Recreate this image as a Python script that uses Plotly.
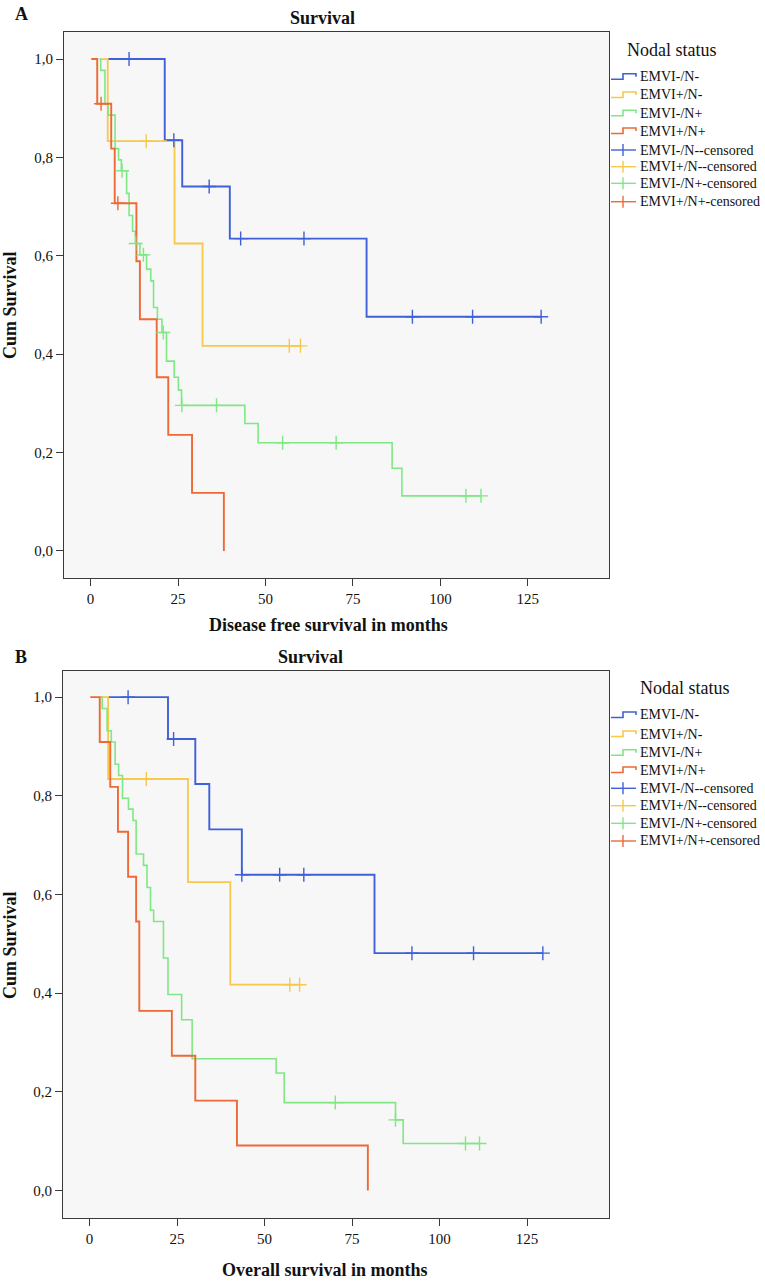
import plotly.graph_objects as go

W, H = 765, 1281

groups = ["EMVI-/N-", "EMVI+/N-", "EMVI-/N+", "EMVI+/N+"]
colors = ["#3f60d8", "#f8c84a", "#7fe884", "#ee6935"]
widths = [1.9, 1.8, 1.6, 1.9]

x_ticks = [0, 25, 50, 75, 100, 125]
y_ticks = [0.0, 0.2, 0.4, 0.6, 0.8, 1.0]
y_tick_text = ["0,0", "0,2", "0,4", "0,6", "0,8", "1,0"]

# Panel A - disease free survival (months)
dfs_start = [5.0, 3.0, 2.5, 0.2]
dfs_times = [
    [21.2, 26.2, 39.8, 78.9],
    [4.9, 24.0, 32.0],
    [2.9, 4.1, 5.0, 7.0, 8.0, 8.8, 10.3, 11.0, 12.0, 12.8, 14.1, 16.0, 17.2, 18.0,
     19.1, 20.4, 21.7, 23.9, 25.1, 26.0, 44.1, 47.9, 86.2, 89.0],
    [1.9, 5.9, 6.9, 13.1, 14.1, 18.9, 22.2, 29.0, 38.1],
]
dfs_surv = [
    [0.835, 0.741, 0.635, 0.476],
    [0.833, 0.625, 0.417],
    [0.977, 0.909, 0.886, 0.818, 0.795, 0.773, 0.727, 0.682, 0.650, 0.625, 0.602, 0.573,
     0.549, 0.495, 0.471, 0.444, 0.386, 0.353, 0.327, 0.296, 0.259, 0.220, 0.168, 0.112],
    [0.909, 0.818, 0.707, 0.589, 0.471, 0.353, 0.236, 0.118, 0.0],
]
dfs_censored = [
    [11.0, 23.8, 33.9, 42.9, 61.0, 92.0, 109.2, 128.8],
    [15.9, 56.8, 60.0],
    [9.0, 12.9, 15.1, 20.8, 26.1, 36.0, 54.9, 70.2, 107.3, 111.6],
    [3.0, 7.8],
]
dfs_end = [128.8, 60.0, 111.6, 38.1]

# Panel B - overall survival (months)
os_start = [5.4, 3.0, 3.2, 0.2]
os_times = [
    [22.4, 30.2, 34.2, 43.5, 81.4],
    [5.3, 28.1, 40.2],
    [3.6, 5.0, 6.2, 7.3, 8.3, 9.4, 11.1, 12.4, 13.3, 15.4, 16.4, 17.4, 18.3, 21.1,
     22.4, 26.3, 29.3, 53.3, 55.6, 87.4, 89.6],
    [2.9, 5.9, 8.1, 11.0, 13.3, 14.2, 23.5, 30.2, 42.1, 79.5],
]
os_surv = [
    [0.915, 0.824, 0.732, 0.640, 0.481],
    [0.834, 0.625, 0.417],
    [0.977, 0.932, 0.909, 0.864, 0.841, 0.795, 0.773, 0.750, 0.682, 0.659, 0.614, 0.568,
     0.545, 0.471, 0.397, 0.346, 0.267, 0.238, 0.178, 0.143, 0.095],
    [0.909, 0.818, 0.727, 0.636, 0.545, 0.364, 0.273, 0.182, 0.091, 0.0],
]
os_censored = [
    [11.0, 24.0, 43.5, 54.3, 61.2, 92.1, 109.7, 129.5],
    [16.2, 57.2, 60.0],
    [70.2, 87.4, 107.4, 111.4],
    [],
]
os_end = [129.5, 60.0, 111.4, 79.5]


def surv_at(t, times, surv):
    s = 1.0
    for ti, si in zip(times, surv):
        if ti <= t:
            s = si
    return s


def px(x):
    return x / W


def py(y):
    return 1 - y / H


fig = go.Figure()


def add_panel(xa, ya, start, times, surv, censored, end):
    for i in range(4):
        xs = [start[i]] + times[i] + [end[i]]
        ys = [1.0] + surv[i] + [surv[i][-1]]
        fig.add_trace(go.Scatter(x=xs, y=ys, mode="lines", line_shape="hv",
                                 line=dict(color=colors[i], width=widths[i]),
                                 xaxis=xa, yaxis=ya, showlegend=False, hoverinfo="skip"))
    for i in range(4):
        if not censored[i]:
            continue
        cy = [surv_at(t, times[i], surv[i]) for t in censored[i]]
        fig.add_trace(go.Scatter(x=censored[i], y=cy, mode="markers",
                                 marker=dict(symbol="cross-thin", size=10,
                                             line=dict(color=colors[i], width=1.4)),
                                 xaxis=xa, yaxis=ya, showlegend=False, hoverinfo="skip"))


add_panel("x", "y", dfs_start, dfs_times, dfs_surv, dfs_censored, dfs_end)
add_panel("x2", "y2", os_start, os_times, os_surv, os_censored, os_end)

font = "Liberation Serif, serif"
axis_common = dict(showgrid=False, zeroline=False, showline=True, mirror=True,
                   linecolor="#3a3a3a", linewidth=1.2, ticks="outside", ticklen=7,
                   tickcolor="#3a3a3a", tickfont=dict(family=font, size=15, color="#111"))

fig.update_layout(
    width=W, height=H,
    margin=dict(l=0, r=0, t=0, b=0),
    paper_bgcolor="white",
    plot_bgcolor="#f7f7f7",
    font=dict(family=font),
    xaxis=dict(domain=[px(64), px(609)], range=[-7.6, 148.2], tickvals=x_ticks,
               anchor="y", **axis_common),
    yaxis=dict(domain=[py(578), py(32)], range=[-0.055, 1.055], tickvals=y_ticks,
               ticktext=y_tick_text, anchor="x", **axis_common),
    xaxis2=dict(domain=[px(63), px(609)], range=[-7.6, 148.4], tickvals=x_ticks,
                anchor="y2", **axis_common),
    yaxis2=dict(domain=[py(1218), py(671)], range=[-0.056, 1.053], tickvals=y_ticks,
                ticktext=y_tick_text, anchor="x2", **axis_common),
)

ann = []


def text(x, y, s, size, bold=False, xanchor="center", angle=0):
    ann.append(dict(x=px(x), y=py(y), xref="paper", yref="paper", showarrow=False,
                    text=f"<b>{s}</b>" if bold else s, textangle=angle,
                    xanchor=xanchor, yanchor="middle",
                    font=dict(family=font, size=size, color="#111")))


shapes = []


def legend(title_x, title_y, row_ys):
    text(title_x, title_y, "Nodal status", 18)
    labels = groups + [g + "-censored" for g in groups]
    for k, lab in enumerate(labels):
        ry = row_ys[k]
        c = colors[k % 4]
        if k < 4:
            path = (f"M {px(611)},{py(ry + 2.5)} L {px(623)},{py(ry + 2.5)} "
                    f"L {px(623)},{py(ry - 3)} L {px(636)},{py(ry - 3)} L {px(636)},{py(ry)}")
            shapes.append(dict(type="path", path=path, xref="paper", yref="paper",
                               line=dict(color=c, width=1.6)))
        else:
            shapes.append(dict(type="line", x0=px(611), x1=px(636), y0=py(ry), y1=py(ry),
                               xref="paper", yref="paper", line=dict(color=c, width=1.4)))
            shapes.append(dict(type="line", x0=px(623), x1=px(623), y0=py(ry - 6), y1=py(ry + 6),
                               xref="paper", yref="paper", line=dict(color=c, width=1.4)))
        text(638, ry, lab, 14, xanchor="left")


# Panel A texts
text(21, 14, "A", 18, bold=True)
text(322, 18, "Survival", 18, bold=True)
text(10, 305, "Cum Survival", 18, bold=True, angle=-90)
text(328, 625, "Disease free survival in months", 18, bold=True)
legend(672, 50, [76.7, 95, 113.3, 131, 150, 166.7, 183.3, 201.7])

# Panel B texts
text(21, 657, "B", 18, bold=True)
text(310, 657, "Survival", 18, bold=True)
text(10, 945, "Cum Survival", 18, bold=True, angle=-90)
text(325, 1270, "Overall survival in months", 18, bold=True)
legend(685, 688, [715, 734, 752.7, 770, 788.3, 805.7, 823.3, 841])

fig.update_layout(annotations=ann, shapes=shapes)

# page body has an 8px default margin; drop it so the figure sits at the window corner
fig.write_html("out.html", config={"displayModeBar": False},
               post_script="document.body.style.margin='0';document.body.style.overflow='hidden';")
